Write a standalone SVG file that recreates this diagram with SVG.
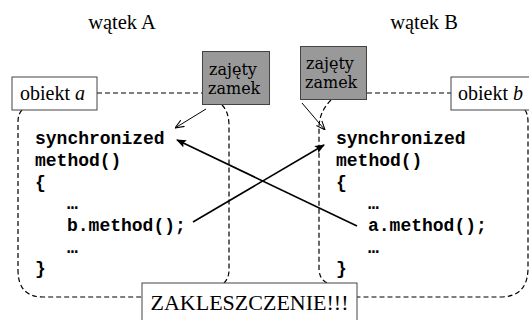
<svg xmlns="http://www.w3.org/2000/svg" width="529" height="320" viewBox="0 0 529 320">
<defs>
<style>
.lbl{font-family:"Liberation Serif","Times New Roman",serif;fill:#000}
.lock{font-family:"DejaVu Serif",serif;font-size:16px;fill:#000}
.code{font-family:"Liberation Mono","Courier New",monospace;font-size:18px;font-weight:bold;fill:#000}
.box{fill:#fff;stroke:#444;stroke-width:1}
.gray{fill:#999;stroke:#444;stroke-width:1}
.dash{fill:none;stroke:#000;stroke-width:1.2;stroke-dasharray:5,3}
.thin{fill:none;stroke:#000;stroke-width:1;marker-end:url(#open)}
.thick{fill:none;stroke:#000;stroke-width:1.6;marker-end:url(#solid)}
</style>
<marker id="open" viewBox="0 0 10 10" refX="10" refY="5" markerWidth="9" markerHeight="9" markerUnits="userSpaceOnUse" orient="auto">
<path d="M0,1 L10,5 L0,9" fill="none" stroke="#000" stroke-width="1.2"/>
</marker>
<marker id="solid" viewBox="0 0 10 10" refX="9" refY="5" markerWidth="10" markerHeight="10" markerUnits="userSpaceOnUse" orient="auto">
<path d="M0,1 L10,5 L0,9 L2,5 Z" fill="#000"/>
</marker>
</defs>
<rect width="529" height="320" fill="#fff"/>

<g id="regions">
<path class="dash" d="M22,110 Q18,114 18,122 L18,270 Q18,297 43,297 L142,297"/>
<path class="dash" d="M222,105 Q229,112 229,126 L229,270 Q229,278 224,283"/>
<path class="dash" d="M331,100 Q319,112 319,128 L319,268 Q319,279 327,283"/>
<path class="dash" d="M525,110 Q528,114 528,122 L528,268 Q528,297 500,297 L357,297"/>
<path class="dash" d="M97,93 H202"/>
<path class="dash" d="M367,93 H451"/>
</g>

<g id="threadA"><text class="lbl" x="122" y="29" font-size="20.5" text-anchor="middle">wątek A</text></g>
<g id="threadB"><text class="lbl" x="424" y="29" font-size="20.5" text-anchor="middle">wątek B</text></g>

<g id="objA">
<rect class="box" x="12" y="77" width="85" height="33"/>
<text class="lbl" x="20" y="100" font-size="20">obiekt <tspan font-style="italic">a</tspan></text>
</g>
<g id="objB">
<rect class="box" x="451" y="77" width="82" height="33"/>
<text class="lbl" x="458" y="100" font-size="20">obiekt <tspan font-style="italic">b</tspan></text>
</g>

<g id="lockA">
<rect class="gray" x="202.5" y="51.5" width="67" height="53"/>
<text class="lock" x="209" y="75">zajęty</text>
<text class="lock" x="208" y="94">zamek</text>
</g>
<g id="lockB">
<rect class="gray" x="300.5" y="46.5" width="66" height="53"/>
<text class="lock" x="306" y="69">zajęty</text>
<text class="lock" x="305" y="88">zamek</text>
</g>

<g id="codeA">
<text class="code" x="35" y="144">synchronized</text>
<text class="code" x="35" y="166">method()</text>
<text class="code" x="35" y="188">{</text>
<text class="code" x="67" y="209">…</text>
<text class="code" x="67" y="231">b.method();</text>
<text class="code" x="67" y="253">…</text>
<text class="code" x="35" y="274">}</text>
</g>
<g id="codeB">
<text class="code" x="336" y="144">synchronized</text>
<text class="code" x="336" y="166">method()</text>
<text class="code" x="336" y="188">{</text>
<text class="code" x="368" y="209">…</text>
<text class="code" x="368" y="231">a.method();</text>
<text class="code" x="368" y="253">…</text>
<text class="code" x="336" y="274">}</text>
</g>

<g id="deadlock">
<rect class="box" x="142" y="283" width="215" height="40"/>
<text class="lbl" x="249.5" y="310" font-size="22" text-anchor="middle">ZAKLESZCZENIE!!!</text>
</g>

<g id="connectors">
<path class="thin" d="M206,109 L175,128"/>
<path class="thin" d="M302,103 L325,130"/>
<path class="thick" d="M357,226 L177,140"/>
<path class="thick" d="M193,222 L324,145"/>
</g>
</svg>
